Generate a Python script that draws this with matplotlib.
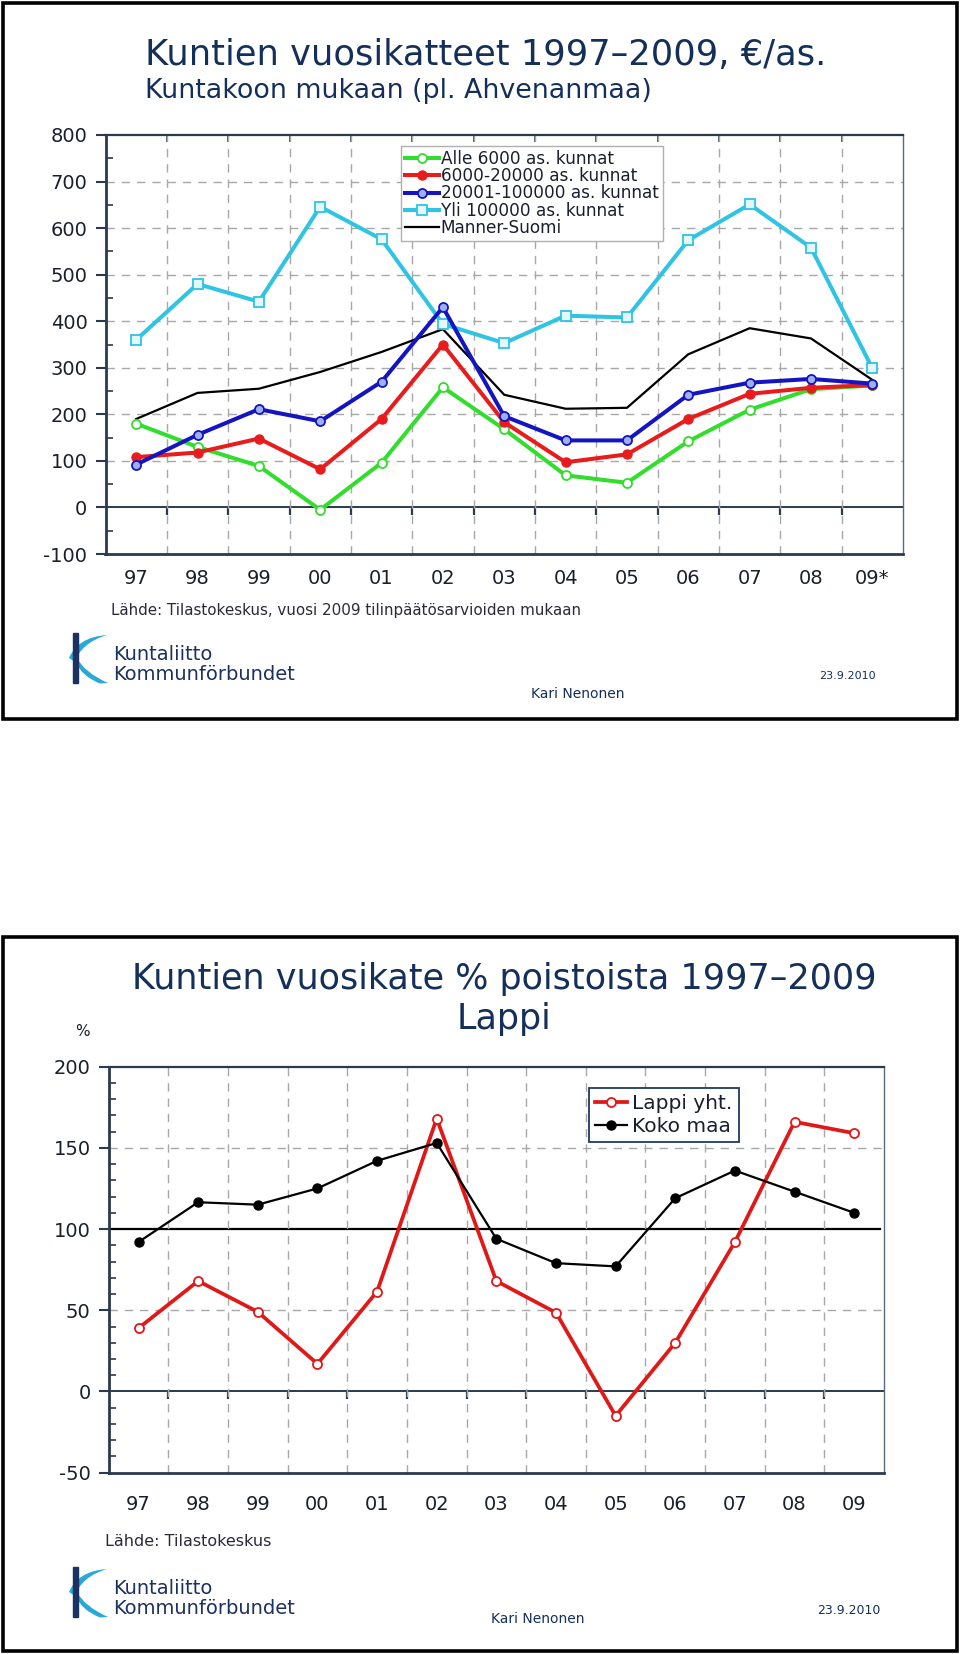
import matplotlib
matplotlib.use("Agg")
import matplotlib.pyplot as plt
from matplotlib.patches import Rectangle, PathPatch
from matplotlib.path import Path
import numpy as np

plt.rcParams['font.family'] = ['DejaVu Sans']
plt.rcParams['axes.unicode_minus'] = False

# ---------------- data: top chart ----------------
years_top = ['97', '98', '99', '00', '01', '02', '03', '04', '05', '06', '07', '08', '09*']
alle_6000 = [180, 130, 89, -5, 96, 258, 168, 69, 53, 142, 210, 254, 262]
k6000_20000 = [108, 118, 148, 82, 190, 350, 183, 97, 114, 190, 244, 257, 263]
k20001_100000 = [92, 156, 211, 185, 270, 430, 196, 144, 144, 242, 268, 276, 266]
yli_100000 = [360, 480, 442, 646, 576, 394, 353, 412, 408, 574, 651, 558, 299]
manner_suomi = [190, 246, 255, 291, 334, 383, 242, 212, 214, 329, 385, 363, 274]
labels_top = ['Alle 6000 as. kunnat', '6000-20000 as. kunnat', '20001-100000 as. kunnat',
              'Yli 100000 as. kunnat', 'Manner-Suomi']

# ---------------- data: bottom chart ----------------
years_bot = ['97', '98', '99', '00', '01', '02', '03', '04', '05', '06', '07', '08', '09']
lappi = [39, 68, 49, 17, 61.5, 168, 68, 48.5, -15, 30, 92, 166, 159]
koko_maa = [92, 116.5, 115, 125, 142, 153, 94, 79, 77, 119, 136, 123, 110]
labels_bot = ['Lappi yht.', 'Koko maa']

W, H = 960, 1654
fig = plt.figure(figsize=(W / 100, H / 100), dpi=100)
fig.patch.set_facecolor('white')

NAVY = '#14305a'
SPINE = '#2b3a4e'
TICKC = '#1a1f2e'
GRIDC = '#a8a8a8'


def fx(px):
    return px / W


def fy(py):
    return 1 - py / H


# panel frames
for (y0, y1) in [(3, 719), (937, 1651)]:
    fig.add_artist(Rectangle((fx(3), fy(y1)), fx(954), (y1 - y0) / H, transform=fig.transFigure,
                             fill=False, edgecolor='black', linewidth=2.6))


def style_axes(ax, n, ymin, ymax, major, minor, xpad, top_ticks=False):
    ax.set_xlim(-0.5, n - 0.5)
    ax.set_ylim(ymin, ymax)
    ax.set_yticks(np.arange(ymin, ymax + 1, major))
    ax.set_yticks(np.arange(ymin, ymax + 1, minor), minor=True)
    ax.tick_params(axis='y', which='major', direction='out', length=7, width=1.5, color=SPINE,
                   labelsize=14, labelcolor=TICKC, pad=6)
    ax.tick_params(axis='y', which='minor', direction='in', length=5, width=1.2, color=SPINE)
    ax.set_xticks(np.arange(n))
    ax.tick_params(axis='x', which='major', length=0, labelsize=14, labelcolor=TICKC, pad=xpad)
    ax.set_xticks(np.arange(n - 1) + 0.5, minor=True)
    ax.tick_params(axis='x', which='minor', length=0)
    ax.grid(which='minor', axis='x', linestyle=(0, (6, 5)), color=GRIDC, linewidth=1.0)
    ax.spines['left'].set_linewidth(2.0)
    ax.spines['left'].set_color(SPINE)
    ax.spines['bottom'].set_linewidth(2.0)
    ax.spines['bottom'].set_color(SPINE)
    ax.spines['top'].set_linewidth(1.6)
    ax.spines['top'].set_color(SPINE)
    ax.spines['right'].set_linewidth(1.0)
    ax.spines['right'].set_color('#5a6a80')
    # zero line with ticks at category boundaries
    zpos = (0 - ymin) / (ymax - ymin)
    sec = ax.secondary_xaxis(zpos)
    sec.set_xticks(np.arange(n - 1) + 0.5)
    sec.set_xticklabels([])
    sec.tick_params(direction='out', length=6, width=1.6, color=SPINE)
    sec.spines['bottom'].set_color(SPINE)
    sec.spines['bottom'].set_linewidth(1.4)
    if top_ticks:
        sec2 = ax.secondary_xaxis('top')
        sec2.set_xticks(np.arange(n - 1) + 0.5)
        sec2.set_xticklabels([])
        sec2.tick_params(direction='in', length=5, width=1.2, color=SPINE)
        sec2.spines['top'].set_visible(False)


# ---------------- top chart ----------------
ax1 = fig.add_axes([fx(105.5), fy(554), fx(903 - 105.5), (554 - 135) / H])
n1 = len(years_top)
x1 = np.arange(n1)
for v in range(-100, 801, 100):
    if v not in (-100, 0, 800):
        ax1.axhline(v, color=GRIDC, linestyle=(0, (6, 5)), linewidth=1.0, zorder=0.5)
style_axes(ax1, n1, -100, 800, 100, 50, 11, top_ticks=True)
ax1.set_xticklabels(years_top)

ax1.plot(x1, alle_6000, color='#33dd2e', linewidth=2.9, marker='o', markersize=6.5,
         markerfacecolor='white', markeredgecolor='#33dd2e', markeredgewidth=1.3,
         label=labels_top[0], zorder=3)
ax1.plot(x1, k6000_20000, color='#e81c1c', linewidth=2.9, marker='o', markersize=6.5,
         markerfacecolor='#e81c1c', markeredgecolor='#e81c1c', label=labels_top[1], zorder=4)
ax1.plot(x1, k20001_100000, color='#1414c0', linewidth=2.9, marker='o', markersize=6.5,
         markerfacecolor='#9eb0f5', markeredgecolor='#1414c0', markeredgewidth=1.3,
         label=labels_top[2], zorder=5)
ax1.plot(x1, yli_100000, color='#2fc3e4', linewidth=2.9, marker='s', markersize=7,
         markerfacecolor='#e4f7fc', markeredgecolor='#2fc3e4', markeredgewidth=1.3,
         label=labels_top[3], zorder=3)
ax1.plot(x1, manner_suomi, color='black', linewidth=1.6, label=labels_top[4], zorder=2)

leg1 = ax1.legend(loc='upper left', bbox_to_anchor=(0.3705, 0.974), borderaxespad=0,
                  fontsize=12.2, frameon=True, fancybox=False, edgecolor='#b0b0b0',
                  handlelength=2.0, handletextpad=0.1, labelspacing=-0.05, borderpad=0.25,
                  framealpha=1)
leg1.get_frame().set_linewidth(1.0)
for t in leg1.get_texts():
    t.set_color(TICKC)

fig.text(fx(145), fy(55), 'Kuntien vuosikatteet 1997\u20132009, \u20ac/as.', fontsize=25.4,
         color=NAVY, va='center', ha='left')
fig.text(fx(145), fy(91), 'Kuntakoon mukaan (pl. Ahvenanmaa)', fontsize=19.4,
         color=NAVY, va='center', ha='left')
fig.text(fx(111), fy(610), 'L\u00e4hde: Tilastokeskus, vuosi 2009 tilinp\u00e4\u00e4t\u00f6sarvioiden mukaan',
         fontsize=10.9, color='#2a2a3a', va='center', ha='left')
fig.text(fx(578), fy(694), 'Kari Nenonen', fontsize=10, color=NAVY, va='center', ha='center')
fig.text(fx(847), fy(676), '23.9.2010', fontsize=8, color=NAVY, va='center', ha='center')


def draw_logo(x0, ytop):
    # logo drawn in a tiny axes using pixel-like units (origin at x0, ytop+54)
    lax = fig.add_axes([fx(x0), fy(ytop + 54), fx(46), 54 / H])
    lax.set_xlim(0, 46)
    lax.set_ylim(0, 54)
    lax.axis('off')
    upper = Path([(41, 51), (12, 49), (3, 28), (9, 24), (15, 43), (41, 51)],
                 [Path.MOVETO, Path.CURVE3, Path.CURVE3, Path.LINETO, Path.CURVE3, Path.CURVE3])
    lax.add_patch(PathPatch(upper, facecolor='#2aa8d8', edgecolor='none', zorder=2))
    lower = Path([(10, 29), (19, 13), (42, 3), (34, 2.5), (15, 10), (10, 24), (10, 29)],
                 [Path.MOVETO, Path.CURVE3, Path.CURVE3, Path.LINETO, Path.CURVE3, Path.CURVE3,
                  Path.LINETO])
    lax.add_patch(PathPatch(lower, facecolor='#2aa8d8', edgecolor='none', zorder=2))
    lax.add_patch(Rectangle((7, 3), 5, 50, color='#1b3160', zorder=3))
    fig.text(fx(x0 + 47), fy(ytop + 22), 'Kuntaliitto', fontsize=14, color='#1b3160',
             va='center', ha='left')
    fig.text(fx(x0 + 47), fy(ytop + 43), 'Kommunf\u00f6rbundet', fontsize=14, color='#1b3160',
             va='center', ha='left')


draw_logo(66, 632)

# ---------------- bottom chart ----------------
ax2 = fig.add_axes([fx(108.7), fy(1472.7), fx(884 - 108.7), (1472.7 - 1066.6) / H])
n2 = len(years_bot)
x2 = np.arange(n2)
for v in (50, 150):
    ax2.axhline(v, color=GRIDC, linestyle=(0, (6, 5)), linewidth=1.0, zorder=0.5)
ax2.axhline(100, xmax=0.995, color='black', linewidth=1.6, zorder=1)
style_axes(ax2, n2, -50, 200, 50, 10, 16)
ax2.set_xticklabels(years_bot)

ax2.plot(x2, lappi, color='#e01818', linewidth=2.7, marker='o', markersize=6.5,
         markerfacecolor='white', markeredgecolor='#e01818', markeredgewidth=1.3,
         label=labels_bot[0], zorder=3)
ax2.plot(x2, koko_maa, color='black', linewidth=1.6, marker='o', markersize=6.5,
         markerfacecolor='black', markeredgecolor='black', label=labels_bot[1], zorder=4)

leg2 = ax2.legend(loc='upper left', bbox_to_anchor=(0.6195, 0.9473), borderaxespad=0,
                  fontsize=14.5, frameon=True, fancybox=False, edgecolor='#1f3a5a',
                  handlelength=1.6, handletextpad=0.25, labelspacing=0.2, borderpad=0.3,
                  framealpha=1)
leg2.get_frame().set_linewidth(1.3)
for t in leg2.get_texts():
    t.set_color(TICKC)

fig.text(fx(504), fy(979), 'Kuntien vuosikate % poistoista 1997\u20132009', fontsize=25.2,
         color=NAVY, va='center', ha='center')
fig.text(fx(504), fy(1019), 'Lappi', fontsize=25.2, color=NAVY, va='center', ha='center')
fig.text(fx(82), fy(1032), '%', fontsize=11, color=TICKC, va='center', ha='center')
fig.text(fx(105), fy(1541), 'L\u00e4hde: Tilastokeskus', fontsize=11.5, color='#2a2a3a',
         va='center', ha='left')
fig.text(fx(538), fy(1619), 'Kari Nenonen', fontsize=10, color=NAVY, va='center', ha='center')
fig.text(fx(849), fy(1611), '23.9.2010', fontsize=9, color=NAVY, va='center', ha='center')

draw_logo(66, 1566)

fig.savefig('out.png', dpi=100)
